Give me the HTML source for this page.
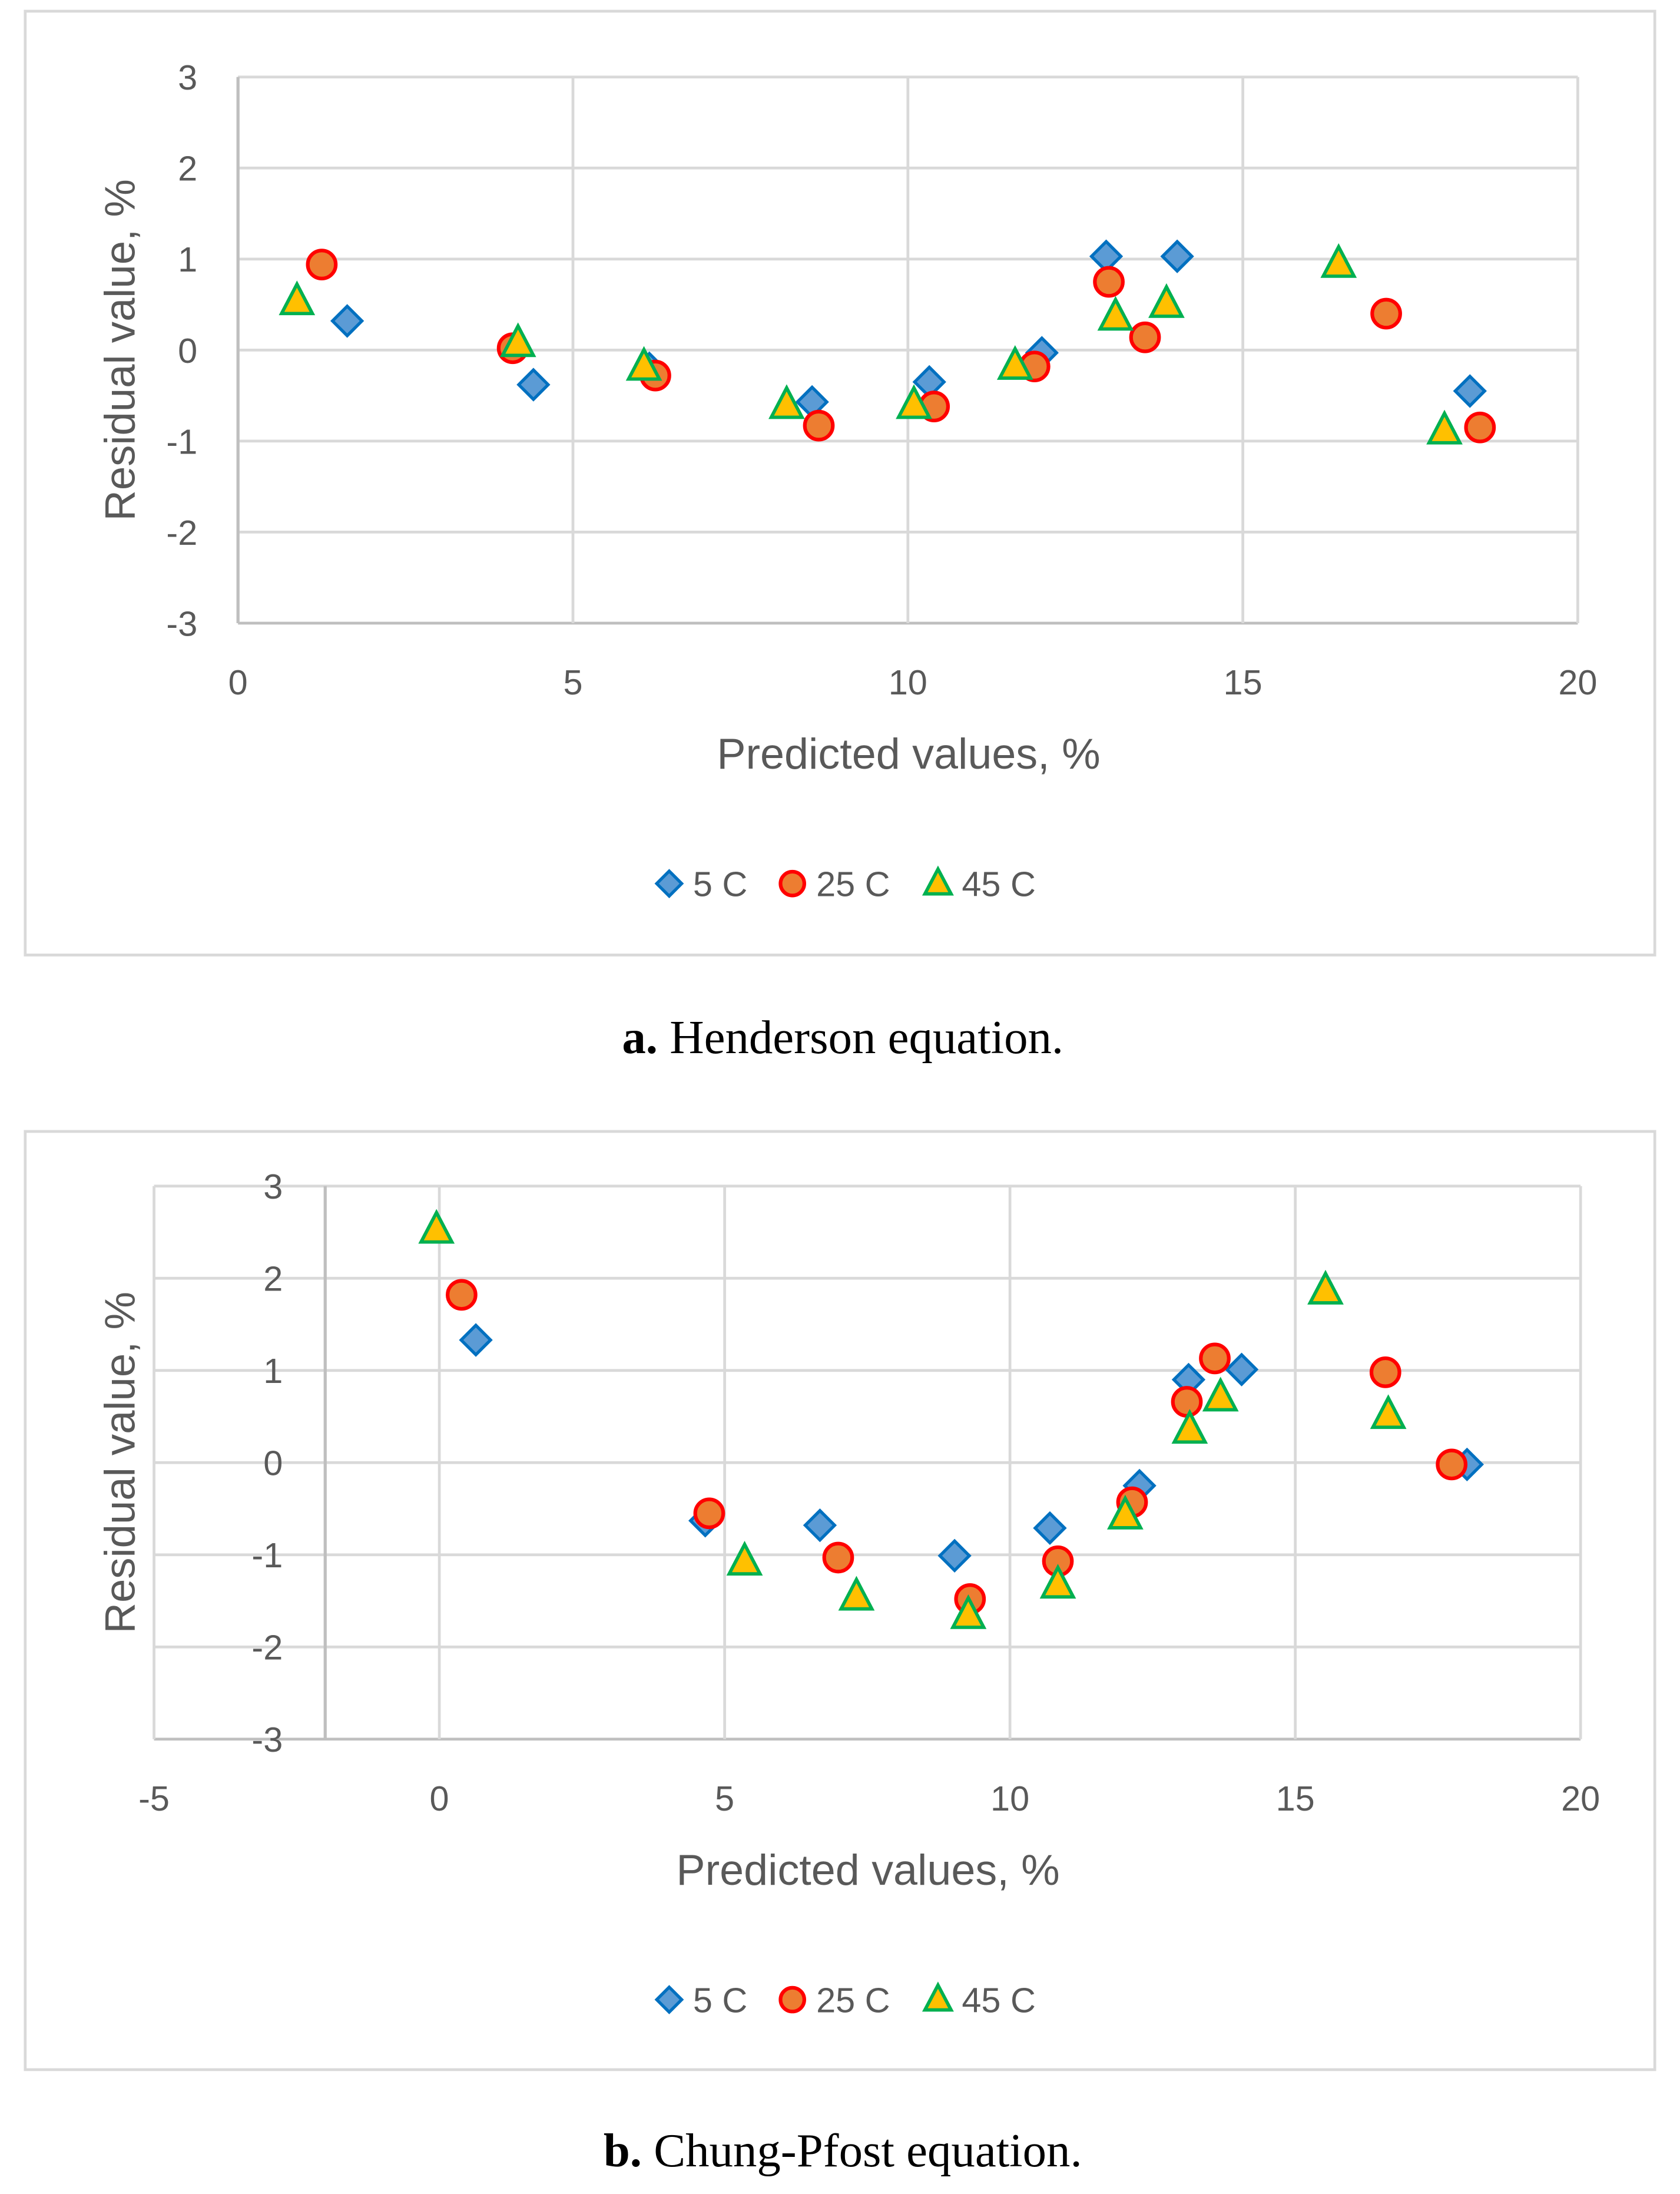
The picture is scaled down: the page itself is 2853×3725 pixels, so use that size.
<!DOCTYPE html>
<html><head><meta charset="utf-8"><style>
html,body{margin:0;padding:0;background:#fff;}
svg{display:block;}
text{font-family:"Liberation Sans",sans-serif;fill:#595959;}
.cap{font-family:"Liberation Serif",serif;fill:#000;}
</style></head><body>
<svg id="fig" width="2853" height="3725" viewBox="0 0 1200 1566.8" xmlns="http://www.w3.org/2000/svg"></svg>
<script>
// ---- Chart a (Henderson) data ----
const aX5 = [1.63, 4.41, 6.14, 8.57, 10.32, 12.0, 12.96, 14.02, 18.39];
const aY5 = [0.32, -0.38, -0.2, -0.57, -0.35, -0.03, 1.03, 1.03, -0.45];
const aX25 = [1.25, 4.1, 6.23, 8.67, 10.39, 11.89, 13.0, 13.54, 17.14, 18.54];
const aY25 = [0.94, 0.02, -0.28, -0.83, -0.62, -0.18, 0.75, 0.14, 0.4, -0.85];
const aX45 = [0.88, 4.18, 6.06, 8.19, 10.09, 11.6, 13.1, 13.86, 16.43, 18.01];
const aY45 = [0.54, 0.08, -0.18, -0.6, -0.6, -0.17, 0.37, 0.51, 0.95, -0.88];
const aXTicks = [0, 5, 10, 15, 20];
// ---- Chart b (Chung-Pfost) data ----
const bX5 = [0.64, 4.66, 6.67, 9.03, 10.7, 12.27, 13.13, 14.06, 18.01];
const bY5 = [1.33, -0.63, -0.68, -1.01, -0.71, -0.25, 0.9, 1.01, -0.02];
const bX25 = [0.39, 4.73, 6.99, 9.3, 10.84, 12.14, 13.1, 13.59, 16.58, 17.74];
const bY25 = [1.82, -0.55, -1.03, -1.48, -1.07, -0.43, 0.66, 1.13, 0.98, -0.02];
const bX45 = [-0.05, 5.35, 7.31, 9.27, 10.84, 12.02, 13.15, 13.69, 15.53, 16.63];
const bY45 = [2.53, -1.07, -1.45, -1.65, -1.32, -0.57, 0.36, 0.71, 1.87, 0.52];
const bXTicks = [-5, 0, 5, 10, 15, 20];
const yTicks = [-3, -2, -1, 0, 1, 2, 3];

const NS = "http://www.w3.org/2000/svg";
const svg = document.getElementById('fig');
function mk(tag, attrs, parent) {
  const e = document.createElementNS(NS, tag);
  for (const k in attrs) e.setAttribute(k, attrs[k]);
  (parent || svg).appendChild(e);
  return e;
}
function marker(type, cx, cy, g, s) {
  s = s || 1;
  let e;
  if (type === 'd') {
    const r = 10.5 * s;
    e = mk('polygon', {points: `${cx},${cy-r} ${cx+r},${cy} ${cx},${cy+r} ${cx-r},${cy}`, fill: '#5b9bd5', stroke: '#0070c0', 'stroke-width': 2.2}, g);
  } else if (type === 'c') {
    e = mk('circle', {cx: cx, cy: cy, r: 10 * s, fill: '#ed7d31', stroke: '#ff0000', 'stroke-width': 2.6}, g);
  } else {
    const h = 11 * s;
    e = mk('polygon', {points: `${cx},${cy-h-1} ${cx+h},${cy+h-2} ${cx-h},${cy+h-2}`, fill: '#ffc000', stroke: '#00b050', 'stroke-width': 2.4}, g);
  }
  return e;
}
function chart(cfg) {
  const g = mk('g', {});
  
  
  const box = mk('rect', {x: 18, y: cfg.boxTop, width: 1164, height: cfg.boxH, fill: '#fff', stroke: '#d9d9d9', 'stroke-width': 2}, g);
  
  
  const sx = v => cfg.x0 + (v - cfg.xmin) * (cfg.x1 - cfg.x0) / (cfg.xmax - cfg.xmin);
  const sy = v => cfg.y0 - (v - (-3)) * (cfg.y0 - cfg.y1) / 6;
  yTicks.forEach(t => {
    const l = mk('line', {x1: cfg.x0, x2: cfg.x1, y1: sy(t), y2: sy(t), stroke: t === -3 ? '#bfbfbf' : '#d9d9d9', 'stroke-width': 2}, g);
    
    
    const tx = mk('text', {x: cfg.yLabX, y: sy(t) + 9, 'font-size': 25, 'text-anchor': 'end'}, g);
    tx.textContent = t;
    
    
  });
  cfg.xTicks.forEach(t => {
    const l = mk('line', {x1: sx(t), x2: sx(t), y1: cfg.y1, y2: cfg.y0, stroke: '#d9d9d9', 'stroke-width': 2}, g);
    
    
    const tx = mk('text', {x: sx(t), y: cfg.y0 + 51, 'font-size': 25, 'text-anchor': 'middle'}, g);
    tx.textContent = t;
    
    
  });
  const ax = mk('line', {x1: sx(cfg.axisAt), x2: sx(cfg.axisAt), y1: cfg.y1, y2: cfg.y0, stroke: '#bfbfbf', 'stroke-width': 2.2}, g);
  
  
  const series = [['d', cfg.X5, cfg.Y5, 'series-5c'], ['c', cfg.X25, cfg.Y25, 'series-25c'], ['t', cfg.X45, cfg.Y45, 'series-45c']];
  series.forEach(s => {
    const sg = mk('g', {}, g);
    
    
    s[1].forEach((xv, i) => {
      const m = marker(s[0], sx(xv), sy(s[2][i]), sg);
      
      
    });
  });
  const yt = mk('text', {x: 0, y: 0, 'font-size': 30.5, 'text-anchor': 'middle', transform: `translate(${cfg.yTitleX},${(cfg.y0 + cfg.y1) / 2}) rotate(-90)`}, g);
  yt.textContent = 'Residual value, %';
  
  
  const xt = mk('text', {x: cfg.xTitleX, y: cfg.xTitleY, 'font-size': 31, 'text-anchor': 'middle'}, g);
  xt.textContent = 'Predicted values, %';
  
  
  const lg = mk('g', {}, g);
  
  
  const ly = cfg.legY;
  const items = [['d', 478, 495, '5 C'], ['c', 566, 583, '25 C'], ['t', 670, 687, '45 C']];
  items.forEach(it => {
    const m = marker(it[0], it[1], ly, lg, 0.85);
    
    
    const tx = mk('text', {x: it[2], y: ly + 9, 'font-size': 25}, lg);
    tx.textContent = it[3];
    
    
  });
  const cap = mk('text', {x: 602, y: cfg.capY, 'font-size': 34, 'text-anchor': 'middle', class: 'cap'}, svg);
  const b = mk('tspan', {'font-weight': 'bold'}, cap);
  b.textContent = cfg.capA;
  const r = mk('tspan', {}, cap);
  r.textContent = cfg.capB;
  
  
}
chart({name: 'henderson-chart', boxTop: 8, boxH: 674, x0: 170, x1: 1127, xmin: 0, xmax: 20, y0: 445, y1: 55,
  xTicks: aXTicks, axisAt: 0, X5: aX5, Y5: aY5, X25: aX25, Y25: aY25, X45: aX45, Y45: aY45,
  yLabX: 141, yTitleX: 96, xTitleX: 649, xTitleY: 549, legY: 631, capY: 752, capA: 'a.', capB: ' Henderson equation.'});
chart({name: 'chung-pfost-chart', boxTop: 808, boxH: 670, x0: 110, x1: 1129, xmin: -5, xmax: 20, y0: 1242, y1: 847,
  xTicks: bXTicks, axisAt: -2, X5: bX5, Y5: bY5, X25: bX25, Y25: bY25, X45: bX45, Y45: bY45,
  yLabX: 202, yTitleX: 96, xTitleX: 620, xTitleY: 1346, legY: 1428, capY: 1547, capA: 'b.', capB: ' Chung-Pfost equation.'});
</script>
</body></html>
